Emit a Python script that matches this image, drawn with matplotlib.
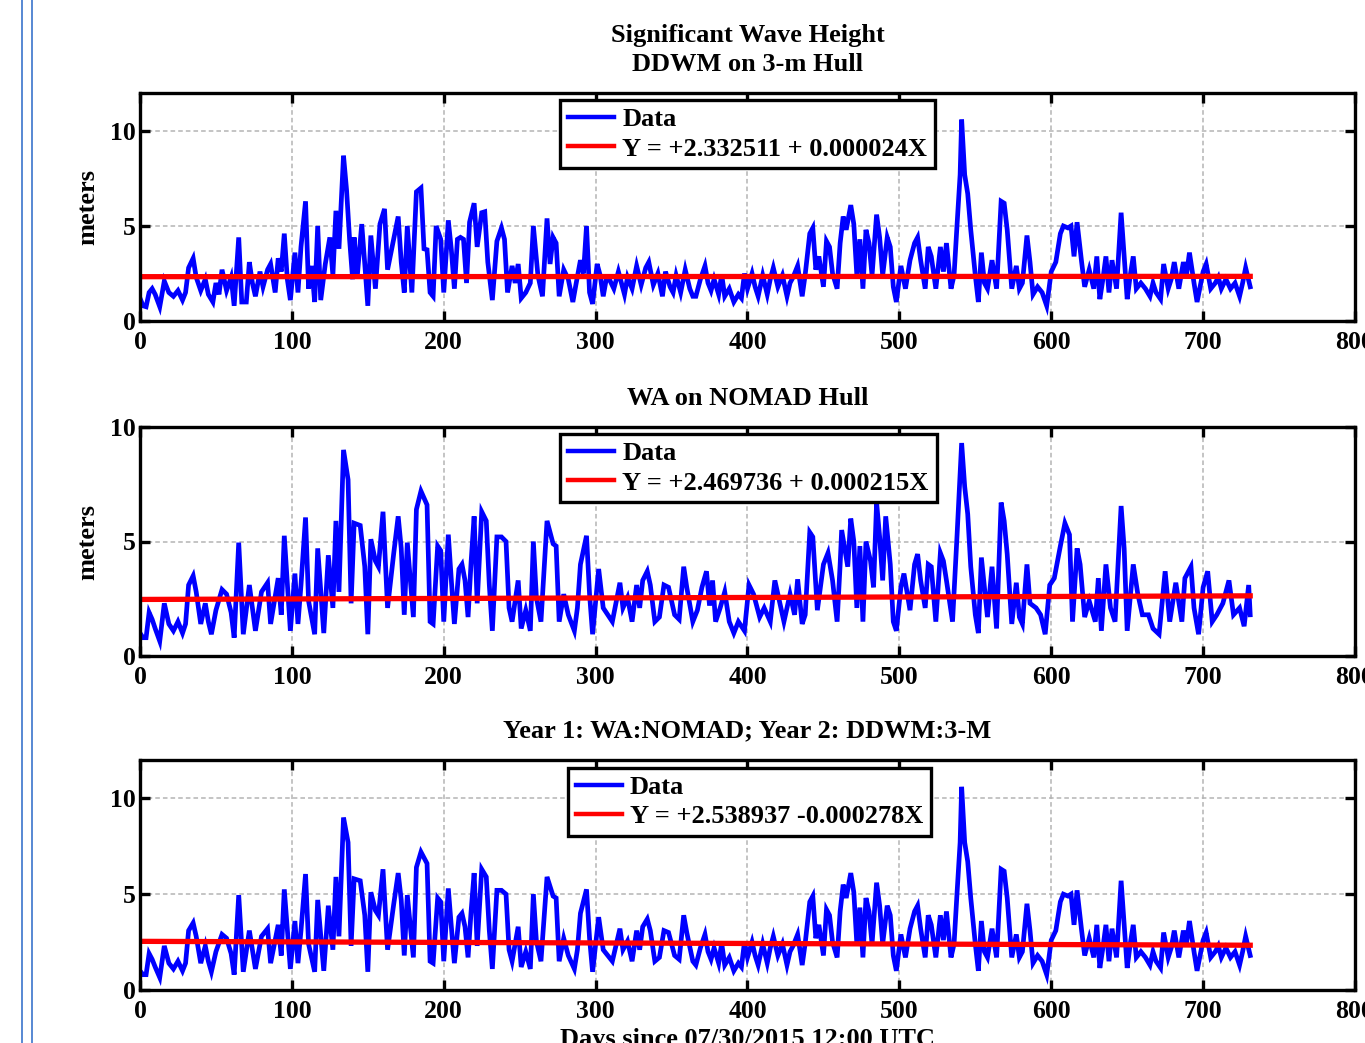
import matplotlib
matplotlib.use("Agg")
import matplotlib.pyplot as plt
from matplotlib.lines import Line2D
import numpy as np

# ---------------- data ----------------
ddwm_days = [0, 2, 4, 6, 8, 10, 13, 16, 19, 22, 25, 28, 30, 32, 35, 37, 40, 43, 45, 48,
             50, 52, 54, 57, 60, 62, 65, 67, 70, 72, 74, 76, 79, 81, 84, 86, 89, 91, 93, 95,
             97, 99, 102, 104, 106, 109, 111, 113, 115, 117, 119, 122, 125, 127, 129, 131, 134, 136, 138, 140,
             141, 143, 146, 148, 150, 152, 155, 158, 161, 163, 165, 167, 170, 172, 174, 176, 179, 182, 185, 187,
             189, 191, 193, 195, 198, 200, 203, 205, 207, 209, 211, 213, 215, 217, 220, 222, 225, 227, 229, 232,
             235, 238, 240, 242, 245, 247, 249, 251, 254, 257, 259, 262, 265, 268, 270, 272, 274, 276, 279, 282,
             285, 287, 290, 292, 294, 296, 298, 301, 303, 305, 307, 309, 312, 315, 317, 319, 321, 324, 327, 330,
             333, 335, 338, 341, 344, 346, 349, 351, 353, 356, 359, 362, 364, 366, 369, 372, 374, 376, 378, 381,
             383, 385, 388, 391, 394, 396, 398, 400, 403, 405, 407, 410, 413, 415, 417, 420, 423, 426, 428, 430,
             433, 436, 438, 441, 443, 445, 447, 450, 452, 454, 456, 459, 461, 463, 465, 468, 470, 472, 474, 476,
             478, 480, 482, 485, 487, 489, 492, 494, 496, 498, 501, 504, 507, 510, 512, 514, 517, 519, 521, 524,
             527, 529, 531, 534, 536, 538, 540, 541, 543, 545, 547, 550, 552, 554, 556, 558, 561, 564, 567, 569,
             571, 574, 577, 579, 581, 584, 586, 588, 591, 594, 597, 600, 603, 606, 608, 611, 613, 615, 617, 620,
             622, 625, 628, 630, 632, 634, 636, 638, 640, 643, 646, 648, 650, 652, 654, 656, 659, 662, 665, 667,
             669, 672, 674, 677, 679, 681, 684, 687, 689, 691, 694, 696, 698, 700, 702, 705, 708, 710, 712, 715,
             718, 721, 724, 726, 728, 731]
ddwm_hs = [1.2, 0.8, 0.75, 1.5, 1.7, 1.4, 0.75, 2.1, 1.5, 1.3, 1.6, 1.1, 1.5, 2.8, 3.3, 2.3, 1.6, 2.2, 1.4, 1.0,
           2.0, 1.4, 2.7, 1.6, 2.3, 0.8, 4.4, 1.0, 1.0, 3.1, 2.0, 1.3, 2.6, 1.8, 2.7, 3.0, 1.5, 3.3, 2.6, 4.6,
           2.2, 1.1, 3.6, 1.5, 3.9, 6.3, 1.7, 2.9, 1.0, 5.0, 1.1, 3.0, 4.4, 2.4, 5.8, 3.8, 8.7, 6.9, 4.3, 2.2,
           4.4, 2.3, 5.1, 3.0, 0.8, 4.5, 1.7, 5.1, 5.9, 2.7, 3.5, 4.3, 5.5, 3.1, 1.5, 5.0, 1.5, 6.8, 7.0, 3.8,
           3.75, 1.5, 1.3, 5.0, 4.3, 1.5, 5.3, 3.75, 1.7, 4.3, 4.4, 4.3, 2.0, 5.2, 6.2, 3.9, 5.7, 5.75, 3.1, 1.1,
           4.2, 4.9, 4.3, 1.5, 2.9, 2.0, 3.0, 1.2, 1.5, 2.0, 5.0, 2.4, 1.3, 5.4, 3.0, 4.4, 4.1, 1.3, 2.7, 2.2,
           1.0, 1.9, 3.2, 2.5, 5.0, 1.5, 0.9, 3.0, 2.4, 1.3, 2.2, 2.2, 1.7, 2.6, 2.0, 1.4, 2.3, 1.7, 2.9, 1.9,
           2.8, 3.1, 1.9, 2.5, 1.3, 2.6, 1.8, 1.5, 2.4, 1.5, 2.7, 1.7, 1.3, 1.3, 2.2, 2.9, 2.0, 1.6, 2.2, 1.4,
           2.45, 1.3, 1.7, 1.0, 1.4, 1.2, 2.5, 1.7, 2.5, 1.8, 1.3, 2.4, 1.4, 2.2, 2.8, 1.8, 2.4, 1.3, 2.0, 2.3,
           2.9, 1.3, 2.45, 4.6, 4.9, 2.7, 3.4, 1.8, 4.2, 3.9, 2.5, 1.7, 4.1, 5.5, 4.8, 6.1, 5.1, 2.4, 4.3, 1.7,
           4.8, 4.1, 2.4, 5.6, 4.4, 2.4, 4.4, 3.9, 1.8, 1.0, 2.9, 1.7, 3.2, 4.1, 4.4, 3.2, 1.7, 3.9, 3.4, 1.7,
           3.9, 2.6, 4.1, 1.7, 2.4, 5.1, 7.7, 10.6, 7.7, 6.7, 4.8, 2.4, 1.0, 3.6, 2.0, 1.7, 3.2, 1.7, 6.3, 6.2,
           4.8, 1.7, 2.9, 1.7, 2.0, 4.5, 3.1, 1.4, 1.8, 1.5, 0.8, 2.6, 3.1, 4.6, 5.0, 4.9, 5.0, 3.4, 5.2, 3.1,
           1.8, 2.7, 1.7, 3.4, 1.15, 2.2, 3.4, 1.5, 3.2, 1.7, 5.7, 3.4, 1.15, 2.4, 3.4, 1.7, 2.0, 1.7, 1.3, 2.0,
           1.5, 1.15, 3.0, 1.7, 2.2, 3.1, 1.7, 3.1, 2.4, 3.6, 2.0, 1.0, 1.8, 2.6, 3.0, 1.7, 2.0, 2.3, 1.7, 2.2,
           1.7, 2.0, 1.3, 2.0, 2.8, 1.8]

wa_days = [0, 2, 4, 6, 8, 10, 13, 16, 19, 22, 25, 28, 30, 32, 35, 37, 40, 43, 45, 47,
           50, 54, 57, 60, 62, 65, 68, 72, 76, 80, 84, 86, 91, 93, 95, 99, 102, 104, 106, 109,
           111, 115, 117, 121, 124, 127, 129, 131, 134, 137, 139, 141, 145, 148, 150, 152, 155, 157, 160, 163,
           167, 170, 172, 174, 176, 180, 182, 185, 189, 191, 193, 196, 198, 200, 203, 205, 207, 210, 212, 214,
           216, 218, 220, 222, 225, 228, 230, 232, 235, 238, 241, 243, 245, 249, 251, 254, 257, 259, 261, 264,
           268, 272, 274, 276, 279, 282, 286, 288, 290, 294, 296, 298, 302, 305, 308, 311, 316, 318, 321, 324,
           327, 329, 331, 334, 336, 339, 342, 345, 348, 352, 355, 358, 360, 364, 367, 370, 373, 375, 377, 379,
           382, 385, 388, 391, 394, 398, 401, 404, 408, 411, 415, 418, 421, 424, 428, 431, 433, 436, 438, 441,
           443, 446, 450, 453, 456, 459, 461, 462, 466, 468, 470, 472, 474, 476, 478, 481, 483, 485, 487, 489,
           491, 494, 496, 498, 501, 503, 507, 510, 512, 514, 517, 519, 521, 524, 527, 529, 531, 535, 538, 541,
           543, 545, 547, 550, 552, 554, 556, 558, 561, 564, 567, 569, 571, 574, 577, 579, 581, 584, 586, 590,
           593, 596, 599, 602, 606, 609, 612, 614, 617, 619, 622, 625, 629, 631, 633, 636, 639, 642, 646, 648,
           650, 654, 657, 660, 664, 667, 671, 675, 678, 682, 686, 688, 692, 694, 697, 700, 703, 706, 709, 713,
           717, 720, 724, 727, 730, 731]
wa_hs = [1.0, 0.8, 0.8, 1.9, 1.6, 1.2, 0.65, 2.3, 1.4, 1.1, 1.5, 1.0, 1.4, 3.1, 3.5, 2.8, 1.4, 2.3, 1.5, 0.95,
         2.0, 2.9, 2.7, 1.9, 0.8, 4.95, 0.95, 3.1, 1.1, 2.8, 3.2, 1.4, 3.4, 1.8, 5.25, 1.1, 3.6, 1.4, 3.1, 6.05,
         2.4, 0.95, 4.7, 1.0, 4.4, 2.1, 5.9, 2.8, 9.0, 7.7, 2.3, 5.8, 5.7, 3.9, 0.95, 5.1, 4.15, 3.9, 6.3, 2.1,
         4.45, 6.1, 4.7, 1.8, 4.95, 1.7, 6.4, 7.2, 6.6, 1.5, 1.4, 4.8, 4.6, 1.5, 5.3, 3.3, 1.4, 3.8, 4.0, 3.3,
         1.7, 4.1, 6.1, 2.3, 6.3, 5.9, 3.1, 1.1, 5.2, 5.2, 5.0, 2.1, 1.5, 3.3, 1.2, 2.0, 1.1, 5.0, 2.55, 1.5,
         5.9, 4.9, 4.8, 1.5, 2.7, 1.8, 1.1, 2.1, 4.0, 5.25, 2.7, 0.95, 3.8, 2.1, 1.8, 1.5, 3.2, 2.1, 2.55, 1.5,
         3.1, 2.1, 3.3, 3.7, 3.1, 1.5, 1.7, 3.1, 3.0, 1.8, 1.6, 3.9, 3.0, 1.5, 2.0, 3.0, 3.7, 2.2, 3.3, 1.5,
         2.1, 2.8, 1.5, 1.0, 1.5, 1.1, 3.1, 2.7, 1.7, 2.1, 1.5, 3.3, 2.4, 1.5, 2.7, 1.8, 3.35, 1.4, 1.8, 5.4,
         5.2, 2.0, 4.0, 4.5, 3.3, 1.5, 4.0, 5.5, 3.9, 6.0, 5.0, 2.1, 4.8, 1.5, 5.0, 4.15, 3.0, 6.7, 5.2, 3.3,
         6.1, 4.0, 1.5, 1.1, 3.0, 3.6, 2.0, 4.0, 4.45, 3.3, 2.1, 4.0, 3.9, 1.5, 4.5, 4.15, 3.3, 1.5, 5.3, 9.3,
         7.4, 6.2, 3.9, 1.8, 1.0, 4.3, 3.0, 1.7, 3.9, 1.2, 6.7, 5.9, 4.45, 1.4, 3.2, 1.7, 1.4, 4.0, 2.3, 2.1,
         1.8, 0.95, 3.1, 3.4, 4.8, 5.8, 5.3, 1.5, 4.7, 4.0, 1.7, 2.4, 1.5, 3.4, 1.1, 4.0, 2.1, 1.5, 6.55, 4.7,
         1.1, 4.0, 2.7, 1.8, 1.8, 1.2, 0.95, 3.7, 1.5, 3.2, 1.5, 3.4, 3.9, 2.1, 0.95, 3.0, 3.7, 1.5, 1.8, 2.3,
         3.3, 1.8, 2.1, 1.3, 3.1, 1.8]

year_split_day = 365

# linear fit coefficients shown in the legends
fit_intercepts = [2.332511, 2.469736, 2.538937]
fit_slopes = [0.000024, 0.000215, -0.000278]
fit_labels = ["Y = +2.332511 + 0.000024X",
              "Y = +2.469736 + 0.000215X",
              "Y = +2.538937 -0.000278X"]

titles = ["Significant Wave Height\nDDWM on 3-m Hull",
          "WA on NOMAD Hull",
          "Year 1: WA:NOMAD; Year 2: DDWM:3-M"]
ylims = [12, 10, 12]
xticks = [0, 100, 200, 300, 400, 500, 600, 700, 800]
yticks = [0, 5, 10]
xlabel = "Days since 07/30/2015 12:00 UTC"
ylabel = "meters"

# combined series: year 1 from WA, year 2 from DDWM
comb_days = [d for d in wa_days if d < year_split_day] + [d for d in ddwm_days if d >= year_split_day]
comb_hs = [v for d, v in zip(wa_days, wa_hs) if d < year_split_day] + \
          [v for d, v in zip(ddwm_days, ddwm_hs) if d >= year_split_day]

series = [(ddwm_days, ddwm_hs), (wa_days, wa_hs), (comb_days, comb_hs)]

# ---------------- figure ----------------
plt.rcParams['font.family'] = ['Liberation Serif', 'DejaVu Serif']
plt.rcParams['font.weight'] = 'bold'

W, H = 1365, 1043
fig = plt.figure(figsize=(W / 100, H / 100), dpi=100)

# axes boxes in pixel coords: (left, top, right, bottom)
boxes = [(140, 93, 1355, 321), (140, 427, 1355, 656), (140, 760, 1355, 990)]
legend_anchor = [(0.346, 0.970), (0.346, 0.970), (0.352, 0.966)]

FS = 19

for i, ((l, t, r, b), (dd, hs)) in enumerate(zip(boxes, series)):
    ax = fig.add_axes([l / W, 1 - b / H, (r - l) / W, (b - t) / H])
    ax.plot(dd, hs, color='#0000ff', lw=3.4, label='Data', solid_joinstyle='miter')
    xfit = np.array([dd[0], dd[-1]])
    ax.plot(xfit, fit_intercepts[i] + fit_slopes[i] * xfit, color='#ff0000', lw=3.8,
            label=fit_labels[i])
    ax.set_xlim(0, 800)
    ax.set_ylim(0, ylims[i])
    ax.set_xticks(xticks)
    ax.set_yticks(yticks)
    ax.grid(True, color='#b4b4b4', linestyle=(0, (3, 2)), linewidth=1.1)
    ax.set_axisbelow(True)
    ax.tick_params(direction='in', length=7, width=2.4, top=True, right=True,
                   labelsize=18.5, pad=7)
    ax.tick_params(axis='y', pad=3)
    for sp in ax.spines.values():
        sp.set_linewidth(2.4)
    ax.set_title(titles[i], fontsize=FS, fontweight='bold', pad=16, linespacing=1.32)
    if i < 2:
        ax.set_ylabel(ylabel, fontsize=FS, fontweight='bold', labelpad=8)
    if i == 2:
        ax.set_xlabel(xlabel, fontsize=FS, fontweight='bold', labelpad=4)
    leg = ax.legend(loc='upper left', bbox_to_anchor=legend_anchor[i], borderaxespad=0,
                    fancybox=False, framealpha=1, edgecolor='black', fontsize=FS,
                    handlelength=1.75, handletextpad=0.3, labelspacing=0.22,
                    borderpad=0.3)
    leg.get_frame().set_linewidth(2.4)
    for h in leg.get_lines():
        h.set_linewidth(3.2)

# document margin lines at the left
for xp in (22, 32):
    fig.add_artist(Line2D([xp / W, xp / W], [0, 1], color='#4a7fd0', lw=1.3))

fig.savefig('out.png', dpi=100)
